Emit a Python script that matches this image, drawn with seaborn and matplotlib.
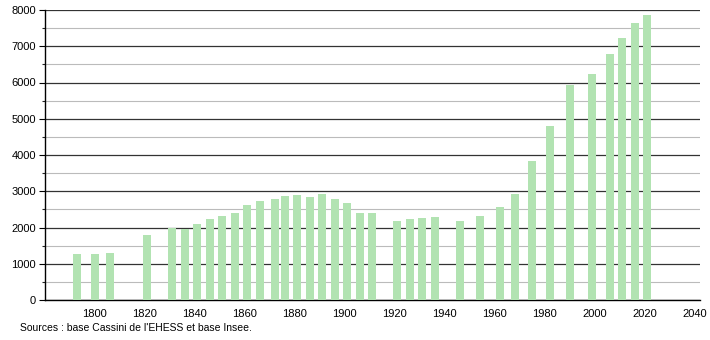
import matplotlib
matplotlib.use("Agg")
import matplotlib.pyplot as plt
import seaborn as sns
import pandas as pd
from matplotlib.ticker import MultipleLocator

years = [1793, 1800, 1806, 1821, 1831, 1836, 1841, 1846, 1851, 1856, 1861, 1866,
         1872, 1876, 1881, 1886, 1891, 1896, 1901, 1906, 1911, 1921, 1926, 1931,
         1936, 1946, 1954, 1962, 1968, 1975, 1982, 1990, 1999, 2006, 2011, 2016, 2021]
population = [1270, 1270, 1300, 1780, 2000, 1970, 2100, 2240, 2320, 2410, 2630, 2730,
              2790, 2870, 2900, 2840, 2930, 2780, 2680, 2410, 2410, 2180, 2235, 2265,
              2290, 2180, 2320, 2570, 2925, 3835, 4800, 5930, 6235, 6785, 7230, 7640, 7862]
x_ticks = [1800, 1820, 1840, 1860, 1880, 1900, 1920, 1940, 1960, 1980, 2000, 2020, 2040]
source = "Sources : base Cassini de l'EHESS et base Insee."

df = pd.DataFrame({"year": years, "pop": population})

sns.set_style("white")
plt.rcParams['font.family'] = ['Liberation Sans', 'DejaVu Sans']

fig = plt.figure(figsize=(7.10, 3.40), dpi=100)
ax = fig.add_axes([44.5 / 710, 40 / 340, (700 - 44.5) / 710, 290 / 340])

ax.bar(df["year"], df["pop"], width=3.2, color="#b2e3b2", zorder=3, linewidth=0)

ax.set_xlim(1780, 2042)
ax.set_ylim(0, 8000)
ax.set_xticks(x_ticks)
ax.yaxis.set_major_locator(MultipleLocator(1000))
ax.yaxis.set_minor_locator(MultipleLocator(500))
ax.grid(axis="y", which="major", color="#333333", linewidth=0.9, zorder=1)
ax.grid(axis="y", which="minor", color="#bbbbbb", linewidth=0.8, zorder=1)
ax.grid(axis="x", visible=False)

for s in ["top", "right"]:
    ax.spines[s].set_visible(False)
ax.spines["left"].set_color("black")
ax.spines["bottom"].set_color("black")
ax.spines["left"].set_linewidth(1)
ax.spines["bottom"].set_linewidth(1)

ax.tick_params(axis="y", which="major", left=True, length=4, width=0.8, labelsize=8, pad=2, colors="black")
ax.tick_params(axis="y", which="minor", left=True, length=2, width=0.8)
ax.tick_params(axis="x", which="major", bottom=False, labelsize=8, pad=3, colors="black")
ax.set_xlabel("")
ax.set_ylabel("")

fig.text(20 / 710, 1 - 328 / 340, source, fontsize=7.5, va="center", ha="left", color="black")

fig.savefig("out.png", dpi=100)
